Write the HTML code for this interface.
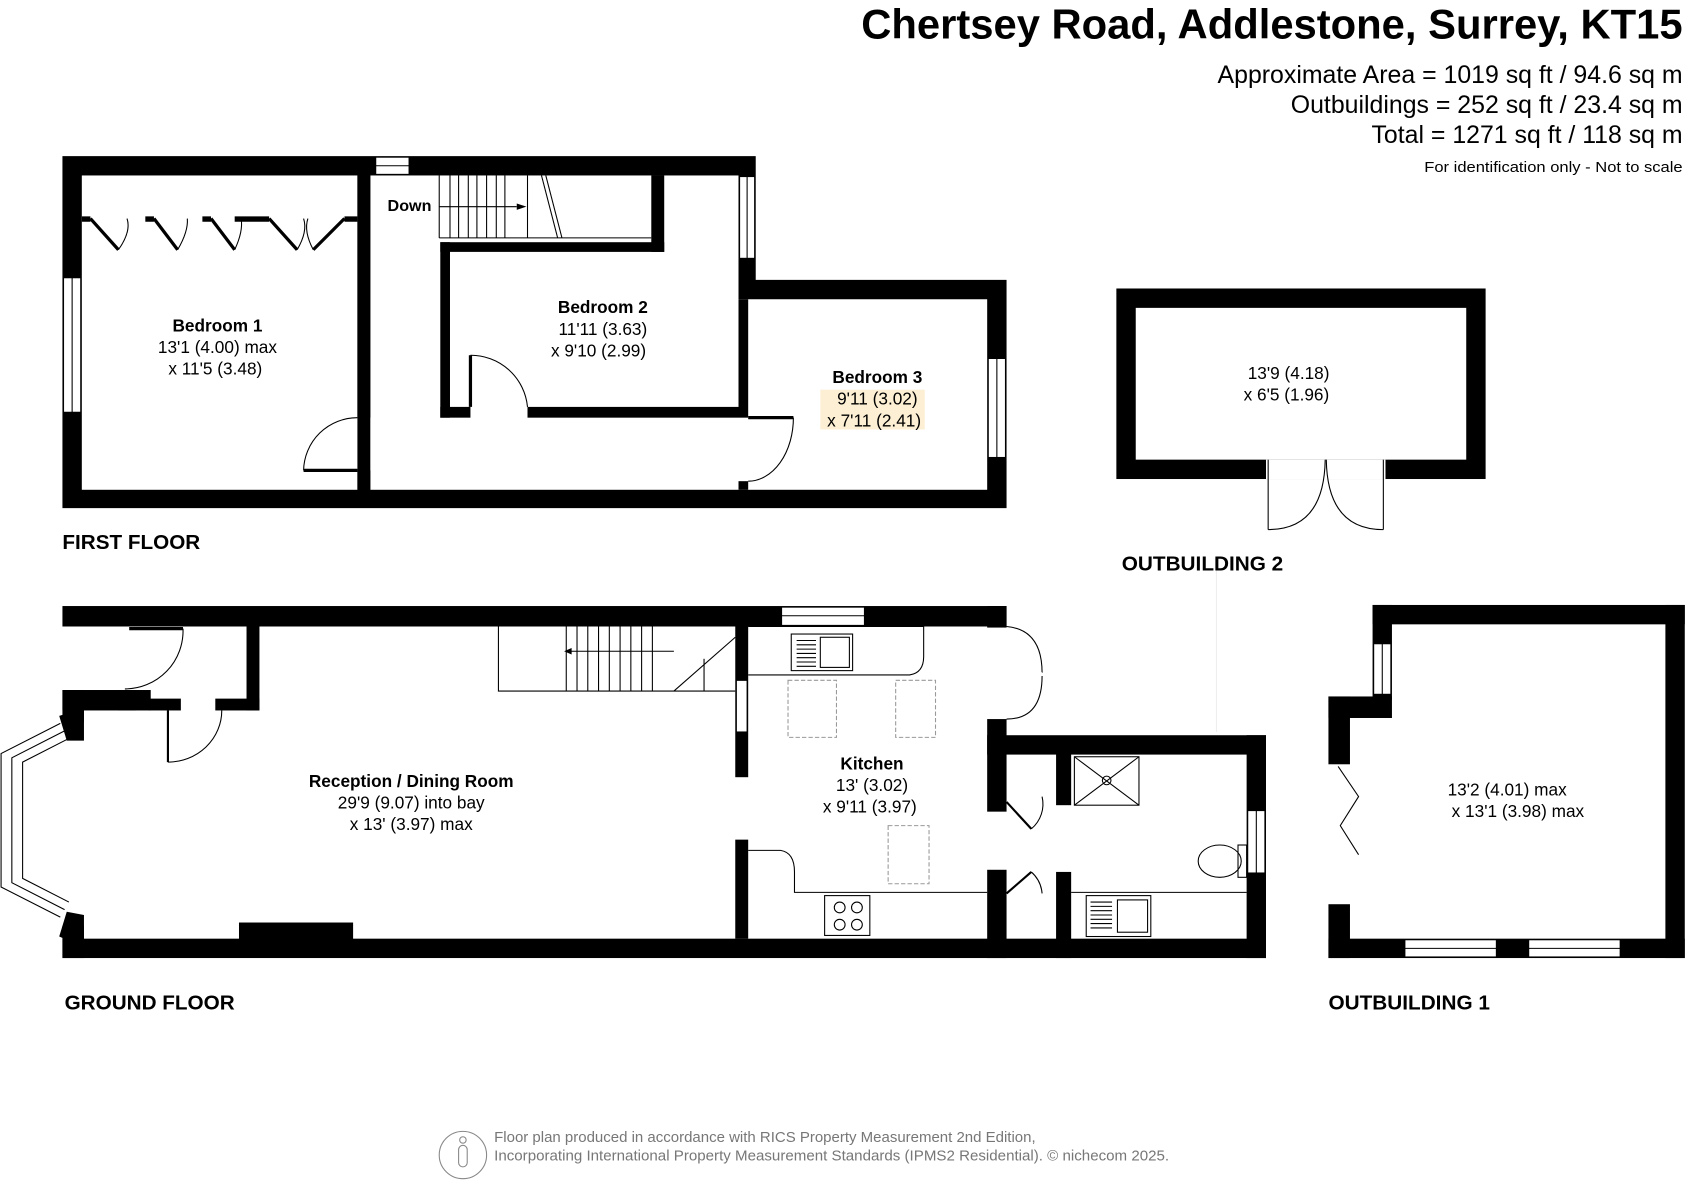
<!DOCTYPE html>
<html><head><meta charset="utf-8"><style>
html,body{margin:0;padding:0;background:#fff;}
svg{display:block;}
text{font-family:"Liberation Sans",Arial,sans-serif;}
</style></head><body>
<svg width="1688" height="1201" viewBox="0 0 1568 1115.7" preserveAspectRatio="none" xmlns="http://www.w3.org/2000/svg">
<rect width="1568" height="1116" fill="#fff"/>
<!-- Header -->
<text x="1563" y="36" text-anchor="end" font-size="39" font-weight="bold" textLength="763" lengthAdjust="spacingAndGlyphs">Chertsey Road, Addlestone, Surrey, KT15</text>
<text x="1563" y="77" text-anchor="end" font-size="23" textLength="432" lengthAdjust="spacingAndGlyphs">Approximate Area = 1019 sq ft / 94.6 sq m</text>
<text x="1563" y="105" text-anchor="end" font-size="23" textLength="364" lengthAdjust="spacingAndGlyphs">Outbuildings = 252 sq ft / 23.4 sq m</text>
<text x="1563" y="133" text-anchor="end" font-size="23" textLength="289" lengthAdjust="spacingAndGlyphs">Total = 1271 sq ft / 118 sq m</text>
<text x="1563" y="160" text-anchor="end" font-size="14" textLength="240" lengthAdjust="spacingAndGlyphs">For identification only - Not to scale</text>

<!-- FIRST FLOOR -->
<polygon points="58,145 702,145 702,260 935,260 935,472 58,472" fill="#000"/>
<rect x="76" y="163" width="256" height="292" fill="#fff"/>
<rect x="344" y="163" width="342" height="292" fill="#fff"/>
<rect x="686" y="278" width="231" height="177" fill="#fff"/>
<rect x="332" y="163" width="12" height="225" fill="#000"/>
<rect x="332" y="437" width="12" height="18" fill="#000"/>
<rect x="409" y="225" width="208" height="9" fill="#000"/>
<rect x="605" y="163" width="12" height="71" fill="#000"/>
<rect x="409" y="225" width="9" height="163" fill="#000"/>
<rect x="409" y="378" width="28" height="10" fill="#000"/>
<rect x="490" y="378" width="196" height="10" fill="#000"/>
<rect x="686" y="278" width="9" height="110" fill="#000"/>
<rect x="686" y="447" width="9" height="8" fill="#000"/>
<g fill="#fff" stroke="#000" stroke-width="1">
<rect x="59" y="258" width="16" height="125"/><line x1="67" y1="258" x2="67" y2="383"/>
<rect x="349" y="146" width="31" height="16"/><line x1="349" y1="154" x2="380" y2="154"/>
<rect x="687" y="164" width="14" height="76"/><line x1="694" y1="164" x2="694" y2="240"/>
<rect x="918" y="333" width="16" height="92"/><line x1="926" y1="333" x2="926" y2="425"/>
</g>
<!-- wardrobe -->
<g fill="#000">
<rect x="76" y="201" width="8" height="5"/><rect x="135" y="201" width="8" height="5"/><rect x="188" y="201" width="8" height="5"/><rect x="218" y="201" width="32" height="5"/><rect x="320" y="201" width="12" height="5"/>
</g>
<g stroke="#000" fill="none">
<polyline points="84,203 110,232" stroke-width="3"/><path d="M110,232 Q122,215 118,203" stroke-width="1"/>
<polyline points="143,203 165,232" stroke-width="3"/><path d="M165,232 Q175,215 174,203" stroke-width="1"/>
<polyline points="174,203 196,232" stroke-width="0"/>
<polyline points="196,203 218,232" stroke-width="3"/><path d="M218,232 Q226,215 224,203" stroke-width="1"/>
<polyline points="250,203 276,232" stroke-width="3"/><path d="M276,232 Q286,215 282,203" stroke-width="1"/>
<polyline points="291,232 320,203" stroke-width="3"/><path d="M291,232 Q282,215 286,203" stroke-width="1"/>
</g>
<!-- stairs FF -->
<g stroke="#000" stroke-width="1" fill="none">
<line x1="408" y1="163" x2="408" y2="221"/><line x1="418" y1="163" x2="418" y2="221"/>
<line x1="426" y1="163" x2="426" y2="221"/><line x1="435" y1="163" x2="435" y2="221"/>
<line x1="443" y1="163" x2="443" y2="221"/><line x1="452" y1="163" x2="452" y2="221"/>
<line x1="461" y1="163" x2="461" y2="221"/><line x1="469" y1="163" x2="469" y2="221"/>
<line x1="490" y1="163" x2="490" y2="221"/>
<line x1="408" y1="221" x2="605" y2="221"/>
<line x1="503" y1="163" x2="518" y2="221"/><line x1="507" y1="163" x2="522" y2="221"/>
<line x1="408" y1="192" x2="480" y2="192"/>
</g>
<polygon points="480,189 489,192 480,195" fill="#000"/>
<text x="360" y="196" font-size="15" font-weight="bold">Down</text>
<g stroke="#000" fill="none" stroke-width="1">
<line x1="282" y1="437" x2="332" y2="437" stroke-width="3"/><path d="M282,437 A50,50 0 0 1 332,388"/>
<line x1="437" y1="330" x2="437" y2="378" stroke-width="3"/><path d="M437,330 A53,53 0 0 1 490,378"/>
<line x1="695" y1="388" x2="737" y2="388" stroke-width="3"/><path d="M737,388 A42,59 0 0 1 695,447"/>
</g>
<rect x="762" y="362" width="97" height="37" fill="#fcefd4"/>
<g text-anchor="middle" font-size="16">
<text x="202" y="308" font-weight="bold">Bedroom 1</text>
<text x="202" y="328">13'1 (4.00) max</text>
<text x="200" y="348">x 11'5 (3.48)</text>
<text x="560" y="291" font-weight="bold">Bedroom 2</text>
<text x="560" y="311">11'11 (3.63)</text>
<text x="556" y="331">x 9'10 (2.99)</text>
<text x="815" y="356" font-weight="bold">Bedroom 3</text>
<text x="815" y="376">9'11 (3.02)</text>
<text x="812" y="396">x 7'11 (2.41)</text>
</g>
<text x="58" y="510" font-size="19" font-weight="bold" textLength="128" lengthAdjust="spacingAndGlyphs">FIRST FLOOR</text>

<!-- OUTBUILDING 2 -->
<rect x="1037" y="268" width="343" height="177" fill="#000"/>
<rect x="1055" y="286" width="307" height="141" fill="#fff"/>
<rect x="1176" y="427" width="111" height="18" fill="#fff"/>
<g stroke="#000" fill="none" stroke-width="1">
<line x1="1178" y1="427" x2="1178" y2="492"/><line x1="1285" y1="427" x2="1285" y2="492"/>
<path d="M1178,492 Q1230,492 1231,427"/><path d="M1285,492 Q1233,492 1232,427"/>
<line x1="1130" y1="530" x2="1130" y2="680" stroke="#eee"/>
</g>
<g text-anchor="middle" font-size="16">
<text x="1197" y="352">13'9 (4.18)</text>
<text x="1195" y="372">x 6'5 (1.96)</text>
</g>
<text x="1042" y="530" font-size="19" font-weight="bold" textLength="150" lengthAdjust="spacingAndGlyphs">OUTBUILDING 2</text>

<!-- GROUND FLOOR -->
<rect x="58" y="563" width="877" height="19" fill="#000"/>
<rect x="58" y="872" width="1118" height="18" fill="#000"/>
<rect x="222" y="857" width="106" height="16" fill="#000"/>
<rect x="58" y="641" width="68" height="19" fill="#000"/>
<rect x="110" y="641" width="30" height="19" fill="#000"/>
<rect x="58" y="641" width="20" height="30" fill="#000"/>
<rect x="229" y="582" width="12" height="78" fill="#000"/>
<rect x="200" y="649" width="41" height="11" fill="#000"/>
<rect x="138" y="649" width="30" height="11" fill="#000"/>
<rect x="58" y="860" width="20" height="30" fill="#000"/>
<polygon points="55,665 78,658 78,688 62,688" fill="#000"/>
<polygon points="55,870 62,847 78,850 78,880" fill="#000"/>
<g stroke="#000" fill="none" stroke-width="1">
<polyline points="56,672 1,700 1,824 56,852"/>
<polyline points="60,679 11,704 11,820 60,845"/>
<polyline points="64,686 21,708 21,816 64,838"/>
<line x1="156" y1="660" x2="156" y2="708" stroke-width="2"/><path d="M156,708 A50,48 0 0 0 206,660"/>
<line x1="120" y1="584" x2="170" y2="584" stroke-width="3"/><path d="M170,584 A54,54 0 0 1 116,640"/>
</g>
<rect x="683" y="582" width="12" height="140" fill="#000"/>
<rect x="683" y="780" width="12" height="92" fill="#000"/>
<rect x="684" y="632" width="10" height="48" fill="#fff" stroke="#000" stroke-width="1"/>
<g stroke="#000" stroke-width="1" fill="none">
<polyline points="463,582 463,642 683,642"/>
<line x1="526" y1="605" x2="626" y2="605"/>
<line x1="626" y1="642" x2="683" y2="592"/>
<line x1="526" y1="582" x2="526" y2="642"/><line x1="536" y1="582" x2="536" y2="642"/>
<line x1="546" y1="582" x2="546" y2="642"/><line x1="556" y1="582" x2="556" y2="642"/>
<line x1="566" y1="582" x2="566" y2="642"/><line x1="576" y1="582" x2="576" y2="642"/>
<line x1="586" y1="582" x2="586" y2="642"/><line x1="596" y1="582" x2="596" y2="642"/>
<line x1="606" y1="582" x2="606" y2="642"/>
<line x1="654" y1="612" x2="654" y2="642"/>
</g>
<polygon points="531,602 531,608 524,605" fill="#000"/>
<rect x="726" y="564" width="77" height="17" fill="#fff" stroke="#000"/><line x1="726" y1="572" x2="803" y2="572" stroke="#000"/>
<rect x="917" y="563" width="18" height="20" fill="#000"/>
<rect x="917" y="668" width="18" height="86" fill="#000"/>
<rect x="917" y="683" width="259" height="18" fill="#000"/>
<rect x="1158" y="683" width="18" height="207" fill="#000"/>
<rect x="917" y="808" width="18" height="82" fill="#000"/>
<rect x="981" y="700" width="14" height="48" fill="#000"/>
<rect x="981" y="810" width="14" height="80" fill="#000"/>
<rect x="1159" y="753" width="16" height="58" fill="#fff" stroke="#000"/><line x1="1167" y1="753" x2="1167" y2="811" stroke="#000"/>
<g stroke="#000" fill="none" stroke-width="1">
<path d="M935,582 Q968,585 968,625"/><line x1="935" y1="625" x2="968" y2="625" stroke="#fff"/>
<path d="M935,668 Q968,668 968,628"/><path d="M935,628 Q940,600 968,628" stroke="none"/>
<line x1="935" y1="745" x2="958" y2="770" stroke-width="2"/><path d="M958,770 A30,30 0 0 0 968,740"/>
<line x1="935" y1="830" x2="958" y2="810" stroke-width="2"/><path d="M958,810 A30,30 0 0 1 968,830"/>
<path d="M695,582 L858,582 L858,610 Q858,625 845,627 L695,627"/>
<path d="M695,790 L725,790 Q738,792 738,810 L738,829 L917,829"/>
<line x1="995" y1="829" x2="1158" y2="829"/>
<rect x="735" y="589" width="57" height="34"/><rect x="762" y="592" width="27" height="28"/>
<rect x="766" y="832" width="42" height="37"/>
<circle cx="780" cy="843" r="5"/><circle cx="796" cy="843" r="5"/><circle cx="780" cy="859" r="5"/><circle cx="796" cy="859" r="5"/>
<rect x="1009" y="832" width="60" height="38"/><rect x="1038" y="836" width="28" height="30"/>
<rect x="998" y="703" width="60" height="45"/><line x1="998" y1="703" x2="1058" y2="748"/><line x1="1058" y1="703" x2="998" y2="748"/>
<circle cx="1028" cy="725" r="4"/>
<ellipse cx="1133" cy="800" rx="20" ry="15"/><rect x="1150" y="785" width="8" height="30"/>
</g>
<g stroke="#000" stroke-width="1">
<line x1="740" y1="595" x2="758" y2="595"/><line x1="740" y1="599" x2="758" y2="599"/><line x1="740" y1="603" x2="758" y2="603"/><line x1="740" y1="607" x2="758" y2="607"/><line x1="740" y1="611" x2="758" y2="611"/><line x1="740" y1="615" x2="758" y2="615"/><line x1="740" y1="619" x2="758" y2="619"/>
<line x1="1013" y1="838" x2="1033" y2="838"/><line x1="1013" y1="842" x2="1033" y2="842"/><line x1="1013" y1="846" x2="1033" y2="846"/><line x1="1013" y1="850" x2="1033" y2="850"/><line x1="1013" y1="854" x2="1033" y2="854"/><line x1="1013" y1="858" x2="1033" y2="858"/><line x1="1013" y1="862" x2="1033" y2="862"/>
</g>
<g stroke="#999" fill="none" stroke-width="1" stroke-dasharray="4,2">
<rect x="732" y="632" width="45" height="53"/><rect x="832" y="632" width="37" height="53"/><rect x="825" y="767" width="38" height="54"/>
</g>
<g text-anchor="middle" font-size="16">
<text x="382" y="731" font-weight="bold">Reception / Dining Room</text>
<text x="382" y="751">29'9 (9.07) into bay</text>
<text x="382" y="771">x 13' (3.97) max</text>
<text x="810" y="715" font-weight="bold">Kitchen</text>
<text x="810" y="735">13' (3.02)</text>
<text x="808" y="755">x 9'11 (3.97)</text>
</g>
<text x="60" y="938" font-size="19" font-weight="bold" textLength="158" lengthAdjust="spacingAndGlyphs">GROUND FLOOR</text>

<!-- OUTBUILDING 1 -->
<rect x="1275" y="562" width="290" height="18" fill="#000"/>
<rect x="1547" y="562" width="18" height="328" fill="#000"/>
<rect x="1234" y="872" width="331" height="18" fill="#000"/>
<rect x="1275" y="562" width="18" height="88" fill="#000"/>
<rect x="1234" y="647" width="59" height="20" fill="#000"/>
<rect x="1234" y="647" width="20" height="63" fill="#000"/>
<rect x="1234" y="840" width="20" height="50" fill="#000"/>
<rect x="1276" y="598" width="16" height="47" fill="#fff" stroke="#000"/><line x1="1284" y1="598" x2="1284" y2="645" stroke="#000"/>
<rect x="1305" y="873" width="85" height="16" fill="#fff" stroke="#000"/><line x1="1305" y1="881" x2="1390" y2="881" stroke="#000"/>
<rect x="1420" y="873" width="85" height="16" fill="#fff" stroke="#000"/><line x1="1420" y1="881" x2="1505" y2="881" stroke="#000"/>
<polyline points="1243,712 1262,740 1245,767 1262,794" fill="none" stroke="#000"/>
<g text-anchor="middle" font-size="16">
<text x="1400" y="739">13'2 (4.01) max</text>
<text x="1410" y="759">x 13'1 (3.98) max</text>
</g>
<text x="1234" y="938" font-size="19" font-weight="bold" textLength="150" lengthAdjust="spacingAndGlyphs">OUTBUILDING 1</text>

<!-- footer -->
<circle cx="430" cy="1073" r="22" fill="none" stroke="#888"/>
<rect x="426" y="1064" width="8" height="20" rx="4" fill="none" stroke="#888"/>
<circle cx="430" cy="1059" r="3" fill="none" stroke="#888"/>
<text x="459" y="1061" font-size="13.5" fill="#777" textLength="503" lengthAdjust="spacingAndGlyphs">Floor plan produced in accordance with RICS Property Measurement 2nd Edition,</text>
<text x="459" y="1078" font-size="13.5" fill="#777" textLength="627" lengthAdjust="spacingAndGlyphs">Incorporating International Property Measurement Standards (IPMS2 Residential).   © nichecom 2025.</text>
</svg>
</body></html>
